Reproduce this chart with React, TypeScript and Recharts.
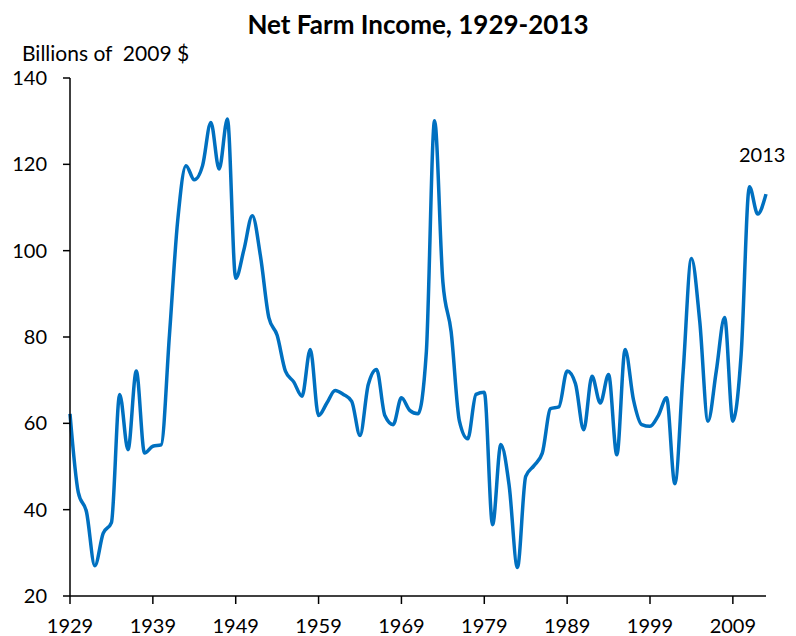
import React from "react";
import { LineChart, Line, XAxis, YAxis } from "recharts";

// Net farm income, billions of 2009 dollars
const years = [
  1929, 1930, 1931, 1932, 1933, 1934, 1935, 1936, 1937, 1938,
  1939, 1940, 1941, 1942, 1943, 1944, 1945, 1946, 1947, 1948,
  1949, 1950, 1951, 1952, 1953, 1954, 1955, 1956, 1957, 1958,
  1959, 1960, 1961, 1962, 1963, 1964, 1965, 1966, 1967, 1968,
  1969, 1970, 1971, 1972, 1973, 1974, 1975, 1976, 1977, 1978,
  1979, 1980, 1981, 1982, 1983, 1984, 1985, 1986, 1987, 1988,
  1989, 1990, 1991, 1992, 1993, 1994, 1995, 1996, 1997, 1998,
  1999, 2000, 2001, 2002, 2003, 2004, 2005, 2006, 2007, 2008,
  2009, 2010, 2011, 2012, 2013,
];

const income = [
  62.2, 44, 39.4, 27, 34.5, 37, 66.7, 53.9, 72.1, 53.1,
  54.7, 55, 80.4, 107, 119.7, 116.4, 119.7, 129.7, 118.9, 130.5,
  93.6, 100.3, 108.1, 98.6, 84.5, 80.4, 72.1, 69.6, 66.3, 77.1,
  61.8, 64.7, 67.6, 66.7, 65.1, 57.2, 69, 72.5, 61.8, 59.7,
  65.9, 63, 62.2, 76.3, 130.1, 92.8, 81.2, 60.5, 56.4, 66.7,
  67.2, 36.5, 55.1, 45.6, 26.6, 47.7, 50.2, 53.1, 63.4, 63.8,
  72.1, 69.2, 58.5, 70.9, 64.7, 71.3, 52.7, 77.1, 65.5, 59.7,
  59.3, 61.8, 65.9, 46, 72, 98.2, 83.7, 60.5, 72.1, 84.5,
  60.5, 76, 114.8, 108.5, 113.1,
];

const xTicks = [1929, 1939, 1949, 1959, 1969, 1979, 1989, 1999, 2009];
const yTicks = [20, 40, 60, 80, 100, 120, 140];

const data = years.map((year, i) => ({ year, income: income[i] }));

const FONT = "Lato, 'Open Sans', sans-serif";

export default function App() {
  return (
    <div
      style={{
        position: "absolute",
        left: 0,
        top: 0,
        width: 796,
        height: 636,
        background: "#fff",
        fontFamily: FONT,
      }}
    >
      <div
        style={{
          position: "absolute",
          left: 0,
          width: 836,
          top: 8,
          textAlign: "center",
          fontSize: 26,
          fontWeight: 700,
          color: "#000",
        }}
      >
        Net Farm Income, 1929-2013
      </div>
      <div
        style={{
          position: "absolute",
          left: 22,
          top: 40,
          fontSize: 21,
          color: "#000",
          whiteSpace: "pre",
        }}
      >
        {"Billions of  2009 $"}
      </div>
      <div
        style={{
          position: "absolute",
          left: 739,
          top: 142,
          fontSize: 20,
          color: "#000",
        }}
      >
        2013
      </div>
      <LineChart
        width={796}
        height={636}
        data={data}
        margin={{ top: 78, right: 30, left: 0, bottom: 0 }}
      >
        <XAxis
          dataKey="year"
          type="number"
          domain={[1929, 2013]}
          ticks={xTicks}
          interval={0}
          height={40}
          tickSize={8}
          tickMargin={15}
          stroke="#000"
          strokeWidth={1.5}
          tick={{ fill: "#000", fontSize: 20, fontFamily: FONT }}
        />
        <YAxis
          type="number"
          domain={[20, 140]}
          ticks={yTicks}
          interval={0}
          width={70}
          tickSize={7}
          tickMargin={16}
          stroke="#000"
          strokeWidth={1.5}
          tick={{ fill: "#000", fontSize: 20, fontFamily: FONT }}
        />
        <Line
          type="monotone"
          dataKey="income"
          stroke="#0070C0"
          strokeWidth={3.5}
          dot={false}
          isAnimationActive={false}
        />
      </LineChart>
    </div>
  );
}
